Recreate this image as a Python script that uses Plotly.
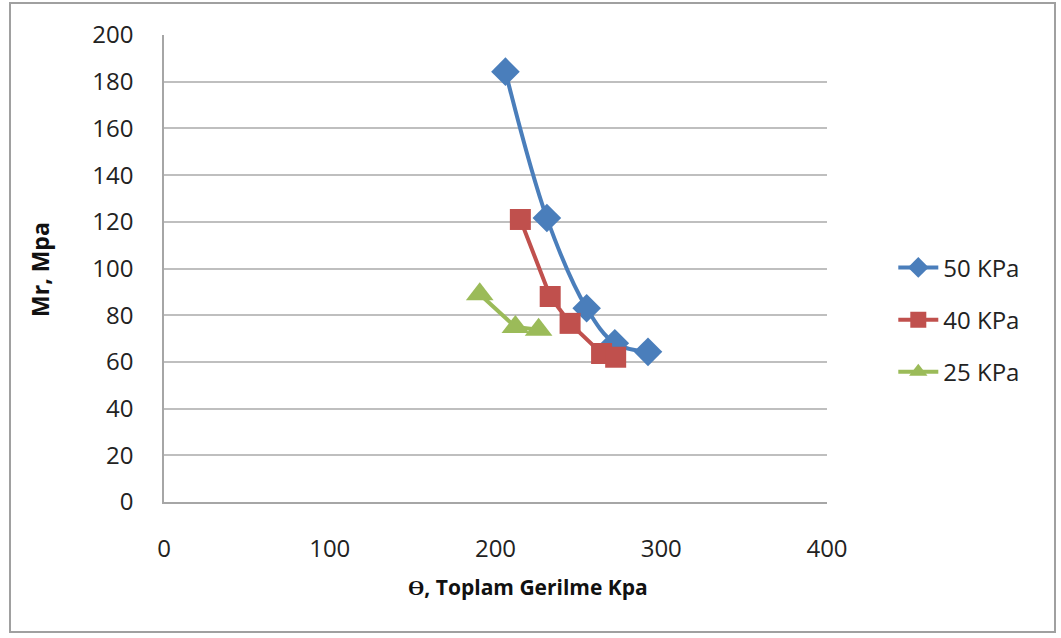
import plotly.graph_objects as go

x50 = [206, 231, 255, 272, 292]
y50 = [184.3, 121.6, 83, 68, 64.3]
x40 = [215, 233, 245, 264, 272.5]
y40 = [121, 88, 76.5, 63.6, 62]
x25 = [190.5, 212, 226]
y25 = [89, 75, 73.8]

names = ["50 KPa", "40 KPa", "25 KPa"]
colors = ["#4A7EBB", "#C0504D", "#9BBB59"]
x_title = "<b>ϴ, Toplam Gerilme Kpa</b>"
y_title = "<b>Mr, Mpa</b>"

font = "Open Sans"

fig = go.Figure()
fig.add_trace(go.Scatter(x=x50, y=y50, name=names[0], mode="lines+markers", legendgroup="a",
                         line=dict(color=colors[0], width=4, shape="spline", smoothing=1.0),
                         marker=dict(symbol="diamond", size=22, color=colors[0])))
fig.add_trace(go.Scatter(x=x40, y=y40, name=names[1], mode="lines+markers", legendgroup="b",
                         line=dict(color=colors[1], width=4),
                         marker=dict(symbol="square", size=21, color=colors[1])))
fig.add_trace(go.Scatter(x=x25, y=y25, name=names[2], mode="lines+markers", legendgroup="c",
                         line=dict(color=colors[2], width=4),
                         marker=dict(symbol="triangle-up", size=24, color=colors[2])))

fig.update_layout(
    width=1061, height=638,
    margin=dict(l=164, r=234, t=35, b=136),
    paper_bgcolor="white", plot_bgcolor="white",
    font=dict(family=font, size=24, color="#222222"),
    showlegend=True,
    legend=dict(x=1.1, y=0.39, xanchor="left", yanchor="middle",
                font=dict(size=24, color="#222222"), tracegroupgap=18,
                itemwidth=40, bgcolor="rgba(0,0,0,0)"),
    xaxis=dict(range=[0, 400], tickvals=[0, 100, 200, 300, 400],
               showgrid=False, zeroline=False, showline=True,
               linecolor="#A6A6A6", linewidth=1.5,
               ticks="", ticklabelstandoff=24,
               tickfont=dict(size=24, color="#222222")),
    yaxis=dict(range=[0, 200], tickvals=list(range(0, 201, 20)),
               showgrid=True, gridcolor="#BFBFBF", gridwidth=1.5,
               zeroline=False, showline=True,
               linecolor="#A6A6A6", linewidth=1.5,
               ticks="", ticklabelstandoff=24,
               tickfont=dict(size=24, color="#222222")),
    annotations=[
        dict(text=x_title, xref="paper", yref="paper",
             x=(528 - 164) / 663, y=(502 - 587) / 467, xanchor="center", yanchor="middle",
             showarrow=False, font=dict(size=21, color="#111111")),
        dict(text=y_title, xref="paper", yref="paper", textangle=-90,
             x=(40 - 164) / 663, y=(502 - 270) / 467, xanchor="center", yanchor="middle",
             showarrow=False, font=dict(size=23, color="#111111")),
    ],
    shapes=[dict(type="rect", xref="paper", yref="paper",
                 x0=-154/663, x1=(1055-164)/663, y0=-(632-502)/467, y1=(502-3)/467,
                 line=dict(color="#A0A0A0", width=2), fillcolor="rgba(0,0,0,0)",
                 layer="below")],
)

fig.write_html("out.html")
